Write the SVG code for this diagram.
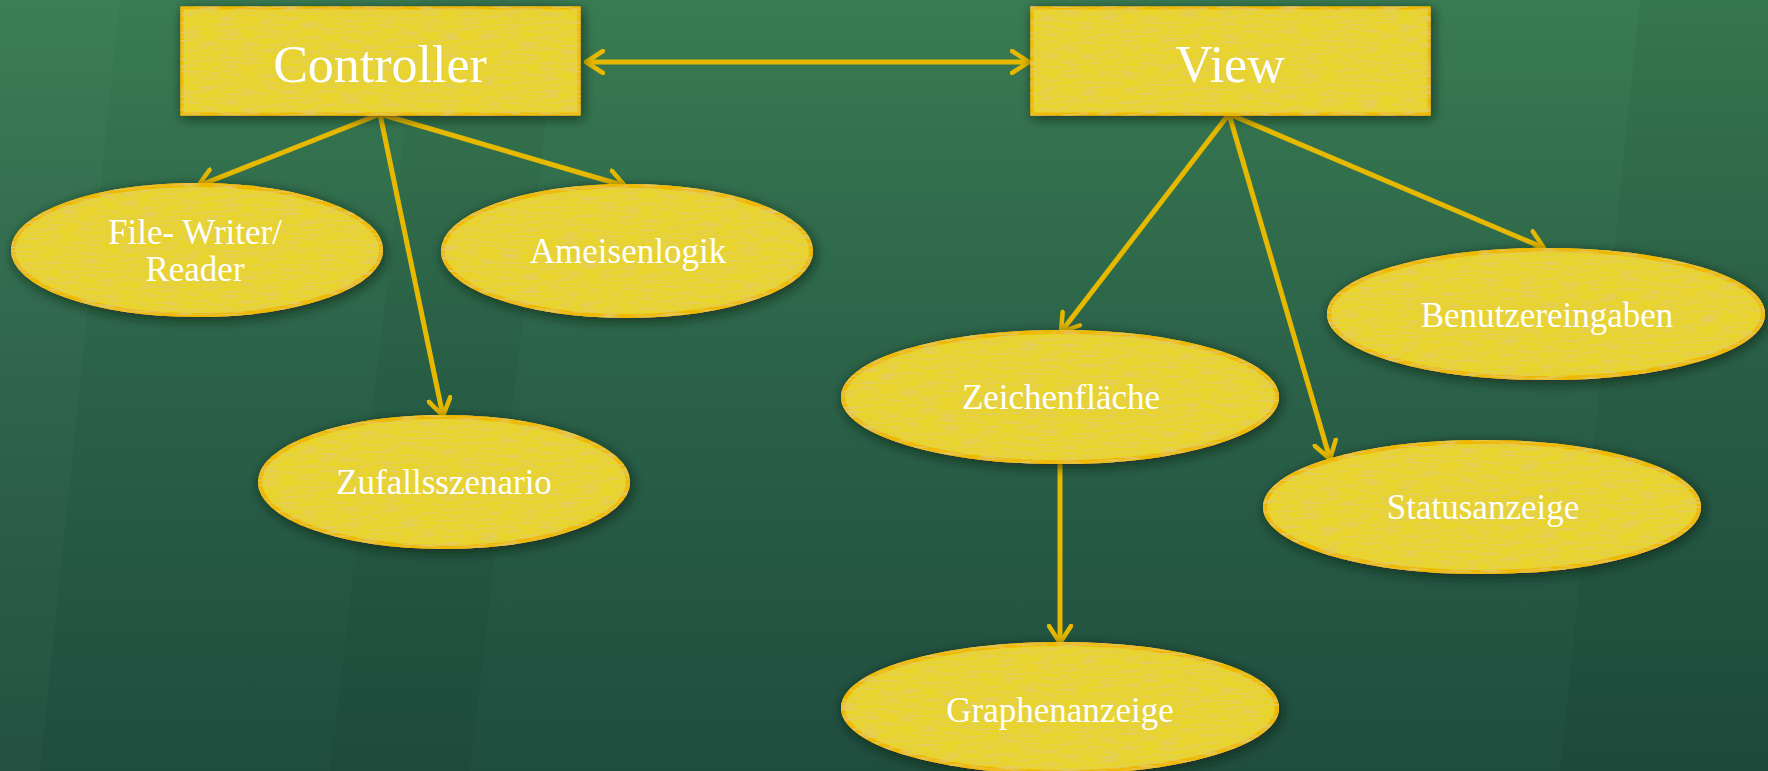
<svg xmlns="http://www.w3.org/2000/svg" width="1768" height="771" viewBox="0 0 1768 771">
  <defs>
    <linearGradient id="board" x1="0" y1="0" x2="0" y2="1">
      <stop offset="0" stop-color="#397b52"/>
      <stop offset="0.5" stop-color="#2a6148"/>
      <stop offset="1" stop-color="#1f4d3e"/>
    </linearGradient>
    <filter id="paper" x="-10%" y="-20%" width="120%" height="150%">
      <feDropShadow dx="2" dy="3" stdDeviation="6" flood-color="#0a1f16" flood-opacity="0.7" result="shadow"/>
      <feTurbulence type="fractalNoise" baseFrequency="0.05 0.45" numOctaves="2" seed="4" result="noise"/>
      <feColorMatrix in="noise" type="matrix" values="0 0 0 0 0.76  0 0 0 0 0.60  0 0 0 0 0.12  0 0 0 -2.6 1.45" result="grain"/>
      <feComposite in="grain" in2="SourceGraphic" operator="in" result="grainIn"/>
      <feMerge>
        <feMergeNode in="shadow"/>
        <feMergeNode in="SourceGraphic"/>
        <feMergeNode in="grainIn"/>
      </feMerge>
    </filter>
    <marker id="chev" markerUnits="userSpaceOnUse" viewBox="0 0 22 26" markerWidth="22" markerHeight="26" refX="19" refY="13" orient="auto-start-reverse">
      <path d="M2,2 L19,13 L2,24" fill="none" stroke="#e6b800" stroke-width="4.5" stroke-linecap="round" stroke-linejoin="round"/>
    </marker>
    <style>
      .box { fill: #e8d42a; stroke: #efb900; stroke-width: 3; }
      .oval { fill: #e8d42a; stroke: #efb900; stroke-width: 4; }
      .edge { stroke: #e6b800; stroke-width: 5; fill: none; marker-end: url(#chev); }
      .title { font-family: "Liberation Serif", "DejaVu Serif", serif; font-size: 52px; fill: #ffffff; text-anchor: middle; }
      .label { font-family: "Liberation Serif", "DejaVu Serif", serif; font-size: 35px; fill: #ffffff; text-anchor: middle; }
    </style>
  </defs>

  <!-- chalkboard background -->
  <rect x="0" y="0" width="1768" height="771" fill="url(#board)"/>
  <polygon points="0,0 120,0 40,771 0,771" fill="#ffffff" opacity="0.025"/>
  <polygon points="420,0 560,0 470,771 330,771" fill="#000000" opacity="0.03"/>
  <polygon points="1640,0 1768,0 1768,771 1560,771" fill="#000000" opacity="0.04"/>

  <!-- connectors -->
  <g id="connectors">
    <line class="edge" x1="586" y1="62" x2="1029" y2="62" marker-start="url(#chev)"/>
    <line class="edge" x1="380" y1="114" x2="198" y2="186"/>
    <line class="edge" x1="380" y1="114" x2="625" y2="186"/>
    <line class="edge" x1="380" y1="114" x2="443" y2="416"/>
    <line class="edge" x1="1229" y1="114" x2="1061" y2="332"/>
    <line class="edge" x1="1229" y1="114" x2="1330" y2="459"/>
    <line class="edge" x1="1229" y1="114" x2="1544" y2="248"/>
    <line class="edge" x1="1060" y1="462" x2="1060" y2="643"/>
  </g>

  <g id="controller">
    <rect class="box" x="182" y="8" width="397" height="106" filter="url(#paper)"/>
    <text class="title" x="380" y="82">Controller</text>
  </g>

  <g id="view">
    <rect class="box" x="1032" y="8" width="397" height="106" filter="url(#paper)"/>
    <text class="title" x="1230" y="82">View</text>
  </g>

  <g id="file-writer-reader">
    <ellipse class="oval" cx="197" cy="250" rx="184" ry="65" filter="url(#paper)"/>
    <text class="label" x="195" y="244">File- Writer/</text>
    <text class="label" x="195" y="281">Reader</text>
  </g>

  <g id="ameisenlogik">
    <ellipse class="oval" cx="627" cy="251" rx="184" ry="65" filter="url(#paper)"/>
    <text class="label" x="628" y="263">Ameisenlogik</text>
  </g>

  <g id="zufallsszenario">
    <ellipse class="oval" cx="444" cy="482" rx="184" ry="65" filter="url(#paper)"/>
    <text class="label" x="444" y="494">Zufallsszenario</text>
  </g>

  <g id="zeichenflaeche">
    <ellipse class="oval" cx="1060" cy="397" rx="217" ry="65" filter="url(#paper)"/>
    <text class="label" x="1061" y="409">Zeichenfläche</text>
  </g>

  <g id="benutzereingaben">
    <ellipse class="oval" cx="1546" cy="314" rx="217" ry="64" filter="url(#paper)"/>
    <text class="label" x="1547" y="327">Benutzereingaben</text>
  </g>

  <g id="statusanzeige">
    <ellipse class="oval" cx="1482" cy="507" rx="217" ry="65" filter="url(#paper)"/>
    <text class="label" x="1483" y="519">Statusanzeige</text>
  </g>

  <g id="graphenanzeige">
    <ellipse class="oval" cx="1060" cy="708" rx="217" ry="64" filter="url(#paper)"/>
    <text class="label" x="1060" y="722">Graphenanzeige</text>
  </g>
</svg>
